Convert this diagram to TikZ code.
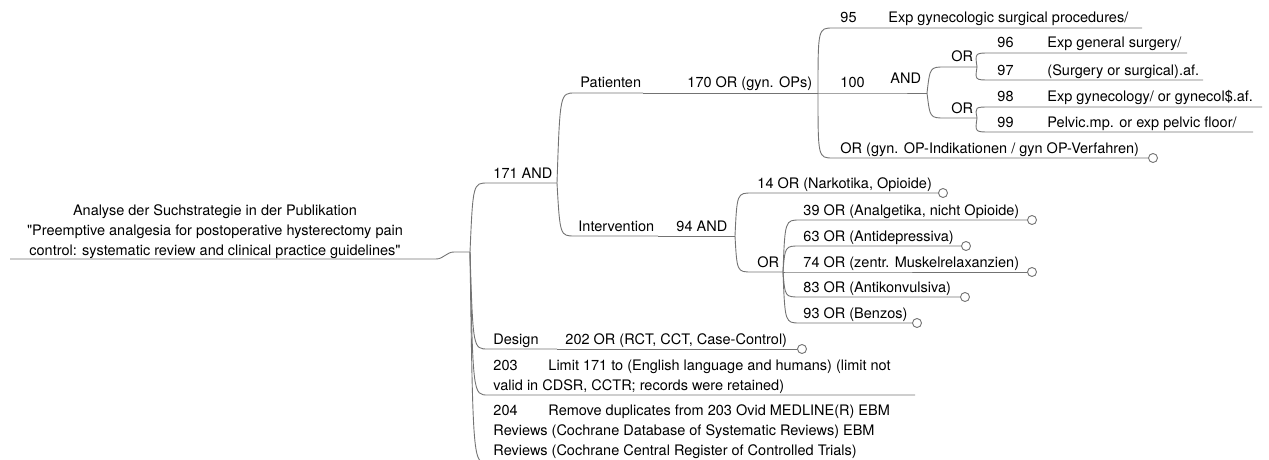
\documentclass[tikz,border=0pt]{standalone}
\usepackage{fontspec}
\setmainfont{TeX Gyre Heros}[Ligatures=TeXOff]
\begin{document}
\begin{tikzpicture}[x=1pt,y=-1pt,line width=0.9pt,
    link/.style={draw=black!55},
    lbl/.style={anchor=base west,inner sep=0pt,align=left,font=\fontsize{14.5}{20}\selectfont},
    knob/.style={circle,draw=black!55,fill=white,inner sep=0pt,minimum size=9pt},
    branch/.style={to path={.. controls ([xshift=-15pt]\tikztotarget) .. (\tikztotarget)}}]
    \useasboundingbox (0,0) rectangle (1269,460);
    % root
    \node[lbl,anchor=south,align=center] (root) at (215,259) {Analyse der Suchstrategie in der Publikation\\"Preemptive analgesia for postoperative hysterectomy pain\\control: systematic review and clinical practice guidelines"};
    \coordinate (root-s) at (10,259);
    \coordinate (root-k) at (436,259);
    \coordinate (root-m) at (454,252);
    \coordinate (root-e) at (470,252);
    \draw[link] (root-s) -- (root-k) to[out=0,in=180] (root-m) -- (root-e);
    % first level
    \coordinate (a171-s) at (488,183);  \coordinate (a171-e) at (557,183);
    \coordinate (des-s) at (488,349);   \coordinate (des-e) at (557,349);
    \coordinate (l203-s) at (488,395);  \coordinate (l203-e) at (915,395);
    \coordinate (l204-s) at (488,463);  \coordinate (l204-e) at (915,463);
    \node[lbl] (a171) at (493,178) {171 AND};
    \node[lbl] (des) at (493,344) {Design};
    \node[lbl] (l203) at (493,390) {\makebox[55pt][l]{203}Limit 171 to (English language and humans) (limit not\\valid in CDSR, CCTR; records were retained)};
    \node[lbl] (l204) at (493,455) {\makebox[55pt][l]{204}Remove duplicates from 203 Ovid MEDLINE(R) EBM\\Reviews (Cochrane Database of Systematic Reviews) EBM\\Reviews (Cochrane Central Register of Controlled Trials)};
    \draw[link] (root-e) to[branch] (a171-s) -- (a171-e);
    \draw[link] (root-e) to[branch] (des-s) -- (des-e);
    \draw[link] (root-e) to[branch] (l203-s) -- (l203-e);
    \draw[link] (root-e) to[branch] (l204-s) -- (l204-e);
    \node[lbl] (d202) at (565,344) {202 OR (RCT, CCT, Case-Control)};
    \node[knob] (k202) at (802,349) {};
    \draw[link] (des-e) -- (k202.west);
    % Patienten / Intervention
    \coordinate (pat-s) at (575,93);   \coordinate (pat-e) at (643,93);
    \coordinate (int-s) at (575,236);  \coordinate (int-e) at (658,236);
    \node[lbl] (pat) at (580,88) {Patienten};
    \node[lbl] (int) at (578,231) {Intervention};
    \draw[link] (a171-e) to[branch] (pat-s) -- (pat-e);
    \draw[link] (a171-e) to[branch] (int-s) -- (int-e);
    \coordinate (o170-e) at (818,93);
    \coordinate (a94-e) at (735,236);
    \node[lbl] (o170) at (687,88) {170 OR (gyn. OPs)};
    \node[lbl] (a94) at (676,231) {94 AND};
    \draw[link] (pat-e) -- (o170-e);
    \draw[link] (int-e) -- (a94-e);
    % gyn. OPs
    \coordinate (n95-s) at (833,28);    \coordinate (n95-e) at (1142,28);
    \coordinate (n100-e) at (888,93);
    \coordinate (and-e) at (927,93);
    \coordinate (ind-s) at (833,158);
    \node[lbl] (n95) at (840,23) {\makebox[48pt][l]{95}Exp gynecologic surgical procedures/};
    \node[lbl] (n100) at (840,88) {100};
    \node[lbl] (and) at (890,83) {AND};
    \node[lbl] (ind) at (840,153) {OR (gyn. OP-Indikationen / gyn OP-Verfahren)};
    \node[knob] (kind) at (1153,158) {};
    \draw[link] (o170-e) to[branch] (n95-s) -- (n95-e);
    \draw[link] (o170-e) -- (n100-e) -- (and-e);
    \draw[link] (o170-e) to[branch] (ind-s) -- (kind.west);
    \coordinate (orA-s) at (945,67);   \coordinate (orA-e) at (977,67);
    \coordinate (orB-s) at (945,118);  \coordinate (orB-e) at (977,118);
    \node[lbl] (orA) at (951,62) {OR};
    \node[lbl] (orB) at (951,113) {OR};
    \draw[link] (and-e) to[branch] (orA-s) -- (orA-e);
    \draw[link] (and-e) to[branch] (orB-s) -- (orB-e);
    \coordinate (n96-s) at (990,53);   \coordinate (n96-e) at (1187,53);
    \coordinate (n97-s) at (990,80);   \coordinate (n97-e) at (1203,80);
    \coordinate (n98-s) at (990,107);  \coordinate (n98-e) at (1262,107);
    \coordinate (n99-s) at (990,132);  \coordinate (n99-e) at (1253,132);
    \node[lbl] (n96) at (997,48) {\makebox[50pt][l]{96}Exp general surgery/};
    \node[lbl] (n97) at (997,75) {\makebox[50pt][l]{97}(Surgery or surgical).af.};
    \node[lbl] (n98) at (997,102) {\makebox[50pt][l]{98}Exp gynecology/ or gynecol\$.af.};
    \node[lbl] (n99) at (997,127) {\makebox[50pt][l]{99}Pelvic.mp. or exp pelvic floor/};
    \draw[link] (orA-e) to[branch] (n96-s) -- (n96-e);
    \draw[link] (orA-e) to[branch] (n97-s) -- (n97-e);
    \draw[link] (orB-e) to[branch] (n98-s) -- (n98-e);
    \draw[link] (orB-e) to[branch] (n99-s) -- (n99-e);
    % Intervention
    \coordinate (n14-s) at (752,193);
    \coordinate (orC-s) at (752,272);  \coordinate (orC-e) at (783,272);
    \node[lbl] (n14) at (757,188) {14 OR (Narkotika, Opioide)};
    \node[lbl] (orC) at (757,267) {OR};
    \node[knob] (k14) at (943,193) {};
    \draw[link] (a94-e) to[branch] (n14-s) -- (k14.west);
    \draw[link] (a94-e) to[branch] (orC-s) -- (orC-e);
    \coordinate (n39-s) at (800,220);
    \coordinate (n63-s) at (800,246);
    \coordinate (n74-s) at (800,272);
    \coordinate (n83-s) at (800,297);
    \coordinate (n93-s) at (800,323);
    \node[lbl] (n39) at (803,215) {39 OR (Analgetika, nicht Opioide)};
    \node[lbl] (n63) at (803,241) {63 OR (Antidepressiva)};
    \node[lbl] (n74) at (803,267) {74 OR (zentr. Muskelrelaxanzien)};
    \node[lbl] (n83) at (803,292) {83 OR (Antikonvulsiva)};
    \node[lbl] (n93) at (803,318) {93 OR (Benzos)};
    \node[knob] (k39) at (1032,220) {};
    \node[knob] (k63) at (966,246) {};
    \node[knob] (k74) at (1032,272) {};
    \node[knob] (k83) at (965,297) {};
    \node[knob] (k93) at (917,323) {};
    \draw[link] (orC-e) to[branch] (n39-s) -- (k39.west);
    \draw[link] (orC-e) to[branch] (n63-s) -- (k63.west);
    \draw[link] (orC-e) to[branch] (n74-s) -- (k74.west);
    \draw[link] (orC-e) to[branch] (n83-s) -- (k83.west);
    \draw[link] (orC-e) to[branch] (n93-s) -- (k93.west);
\end{tikzpicture}
\end{document}
